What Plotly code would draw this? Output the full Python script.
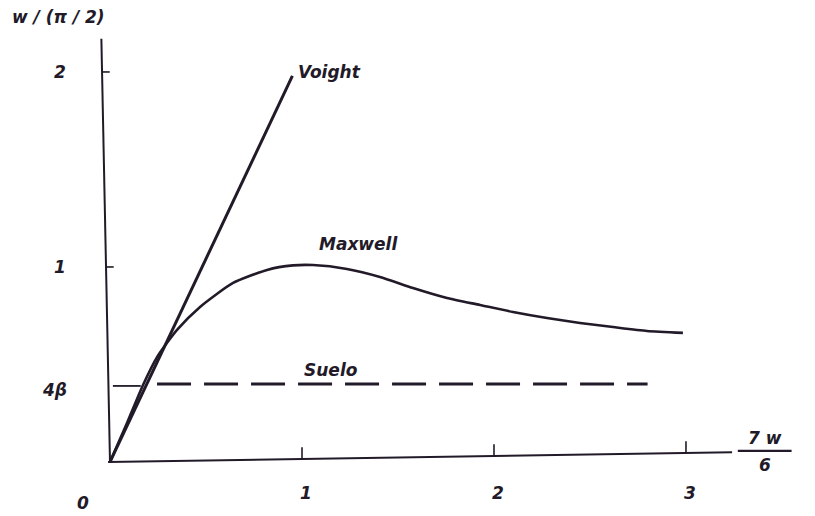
import plotly.graph_objects as go

# Series values (x = eta*w/G, y = w/(pi/2))
maxwell_x = [0.0, 0.08, 0.172, 0.245, 0.349, 0.469, 0.641, 0.818, 0.953, 1.057, 1.234,
             1.406, 1.578, 1.755, 1.927, 2.099, 2.276, 2.448, 2.62, 2.797, 2.984]
maxwell_y = [0.0, 0.18, 0.395, 0.538, 0.677, 0.795, 0.918, 0.985, 1.008, 1.01, 0.99,
             0.949, 0.892, 0.841, 0.805, 0.769, 0.738, 0.713, 0.692, 0.672, 0.662]
voight_x = [0.0, 0.95]
voight_y = [0.0, 1.98]
suelo_level = 0.40
suelo_x = [0.245, 2.80]
suelo_y = [suelo_level, suelo_level]

x_ticks = [1, 2, 3]
x_tick_labels = ["1", "2", "3"]
y_ticks = [1, 2]
y_tick_labels = ["1", "2"]
beta_level = 0.39

INK = "#221a28"
FONT = dict(family="DejaVu Sans", size=17, color=INK, weight="bold", style="italic")

fig = go.Figure()

# axes drawn as hand-ruled lines
fig.add_trace(go.Scatter(x=[0.0, -0.045], y=[0.0, 2.17], mode="lines",
                         line=dict(color=INK, width=2), hoverinfo="skip"))
fig.add_trace(go.Scatter(x=[-0.01, 3.24], y=[0.0, 0.05], mode="lines",
                         line=dict(color=INK, width=2), hoverinfo="skip"))

# x ticks
for xv in x_ticks:
    base = 0.05 * (xv + 0.01) / 3.25
    fig.add_trace(go.Scatter(x=[xv, xv], y=[base, base + 0.06], mode="lines",
                             line=dict(color=INK, width=1.6), hoverinfo="skip"))
# y ticks
for yv in y_ticks:
    x0 = -0.045 * yv / 2.17
    fig.add_trace(go.Scatter(x=[x0, x0 + 0.04], y=[yv, yv], mode="lines",
                             line=dict(color=INK, width=1.6), hoverinfo="skip"))
fig.add_trace(go.Scatter(x=[0.015, 0.16], y=[beta_level, beta_level], mode="lines",
                         line=dict(color=INK, width=1.8), hoverinfo="skip"))

# curves
fig.add_trace(go.Scatter(x=voight_x, y=voight_y, mode="lines",
                         line=dict(color=INK, width=3), name="Voight"))
fig.add_trace(go.Scatter(x=maxwell_x, y=maxwell_y, mode="lines",
                         line=dict(color=INK, width=2.6, shape="spline", smoothing=0.6),
                         name="Maxwell"))
fig.add_trace(go.Scatter(x=suelo_x, y=suelo_y, mode="lines",
                         line=dict(color=INK, width=2.8, dash="34px,13px"), name="Suelo"))

annotations = [
    dict(x=0.012, y=0.99, xref="paper", yref="paper", text="w / (π / 2)",
         xanchor="left", yanchor="top"),
    dict(x=0.97, y=2.0, text="Voight", xanchor="left", yanchor="middle"),
    dict(x=1.08, y=1.12, text="Maxwell", xanchor="left", yanchor="middle"),
    dict(x=1.0, y=0.47, text="Suelo", xanchor="left", yanchor="middle"),
    dict(x=-0.29, y=beta_level - 0.02, text="4β", xanchor="center", yanchor="middle"),
    dict(x=-0.14, y=-0.21, text="0", xanchor="center", yanchor="middle"),
    dict(x=3.41, y=0.125, text="7 w", xanchor="center", yanchor="middle"),
    dict(x=3.41, y=-0.015, text="6", xanchor="center", yanchor="middle"),
]
for xv, lab in zip(x_ticks, x_tick_labels):
    annotations.append(dict(x=xv + 0.02, y=-0.16, text=lab, xanchor="center", yanchor="middle"))
for yv, lab in zip(y_ticks, y_tick_labels):
    annotations.append(dict(x=-0.26, y=yv, text=lab, xanchor="center", yanchor="middle"))
for a in annotations:
    a.setdefault("font", FONT)
    a["showarrow"] = False

# fraction bar for the x label
fig.add_trace(go.Scatter(x=[3.27, 3.55], y=[0.057, 0.057], mode="lines",
                         line=dict(color=INK, width=2.2), hoverinfo="skip"))

fig.update_layout(
    width=815, height=516,
    margin=dict(l=0, r=0, t=0, b=0),
    paper_bgcolor="white", plot_bgcolor="white",
    showlegend=False,
    xaxis=dict(range=[-0.573, 3.672], visible=False, fixedrange=True),
    yaxis=dict(range=[-0.277, 2.369], visible=False, fixedrange=True),
    annotations=annotations,
)

fig.write_html("out.html")
